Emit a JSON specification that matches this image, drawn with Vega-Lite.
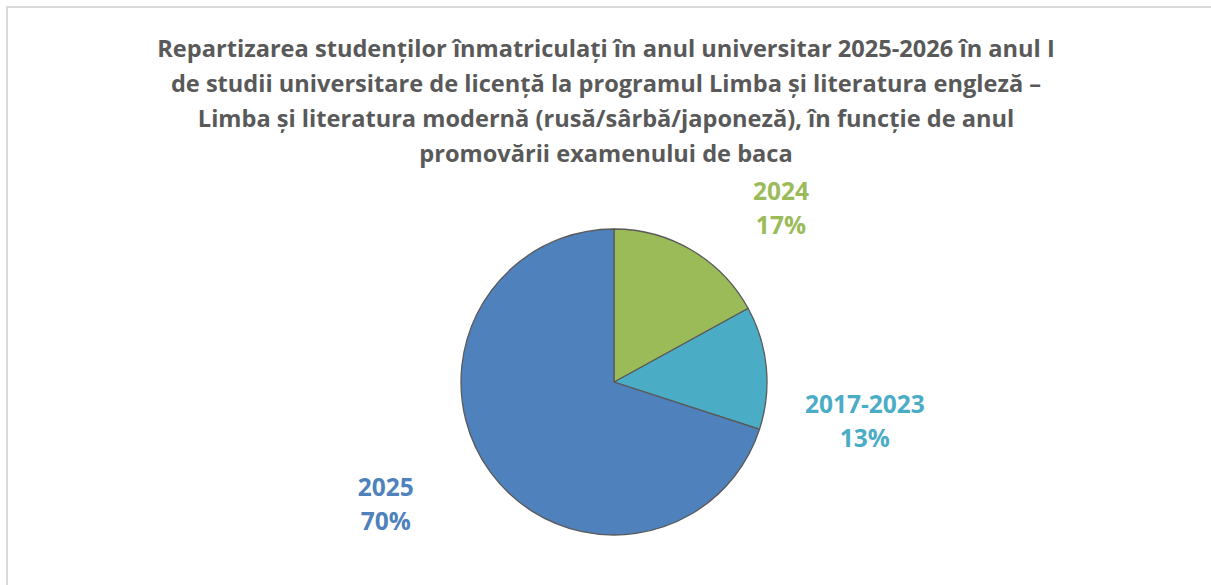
{
  "$schema": "https://vega.github.io/schema/vega-lite/v6.json",
  "width": 1214,
  "height": 750,
  "padding": {"left": 7, "top": 7, "right": 0, "bottom": 0},
  "autosize": {"type": "pad"},
  "background": "white",
  "view": {"stroke": "#d9d9d9", "strokeWidth": 2},
  "title": {
    "text": [
      "Repartizarea studenților înmatriculați în anul universitar 2025-2026 în anul I",
      "de studii universitare de licență la programul Limba și literatura engleză –",
      "Limba și literatura modernă (rusă/sârbă/japoneză), în funcție de anul",
      "promovării examenului de baca"
    ],
    "font": "Open Sans",
    "fontSize": 23.6,
    "fontWeight": "bold",
    "color": "#595959",
    "lineHeight": 35.3,
    "anchor": "middle",
    "offset": -160,
    "dx": -8
  },
  "data": {
    "values": [
      {"category": "2017-2023", "value": 13},
      {"category": "2024", "value": 17},
      {"category": "2025", "value": 70}
    ]
  },
  "transform": [
    {"calculate": "datum.category + '\\n' + datum.value + '%'", "as": "label"}
  ],
  "encoding": {
    "theta": {
      "field": "value",
      "type": "quantitative",
      "stack": true,
      "scale": {"range": [8.168, 1.885]}
    },
    "color": {
      "field": "category",
      "type": "nominal",
      "scale": {
        "domain": ["2017-2023", "2024", "2025"],
        "range": ["#4BACC6", "#9BBB59", "#4F81BD"]
      },
      "legend": null
    }
  },
  "layer": [
    {
      "mark": {"type": "arc", "outerRadius": 153, "stroke": "#5a5a5a", "strokeWidth": 1.3}
    },
    {
      "mark": {
        "type": "text",
        "radius": 252,
        "thetaOffset": 0.19,
        "font": "Open Sans",
        "fontSize": 24.5,
        "fontWeight": "bold",
        "lineBreak": "\n",
        "lineHeight": 34,
        "align": "center",
        "baseline": "middle"
      },
      "encoding": {"text": {"field": "label"}}
    }
  ]
}
